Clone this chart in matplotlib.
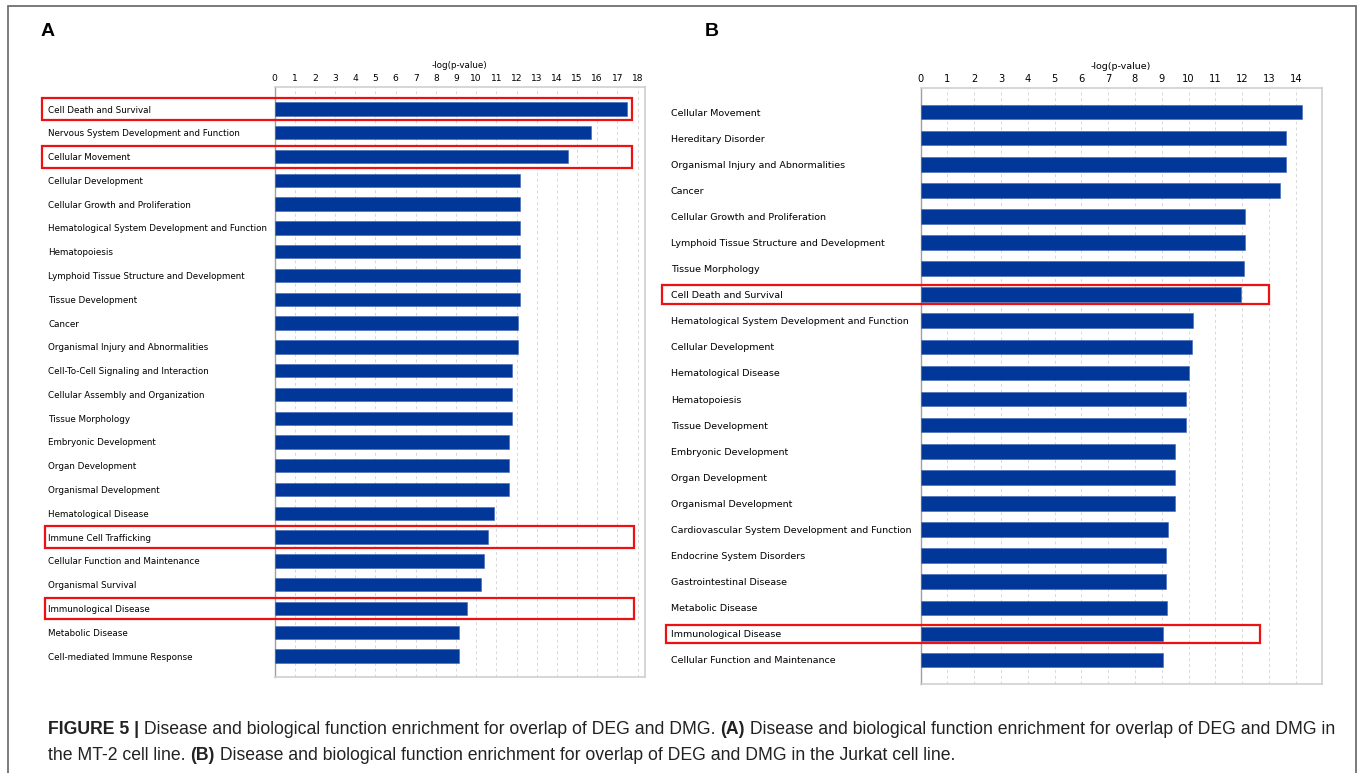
import matplotlib
matplotlib.use('Agg')
import matplotlib.pyplot as plt
import matplotlib.patches as mpatches
import numpy as np

# panel A: MT-2 cell line
cats_a = ['Cell Death and Survival', 'Nervous System Development and Function',
          'Cellular Movement', 'Cellular Development', 'Cellular Growth and Proliferation',
          'Hematological System Development and Function', 'Hematopoiesis',
          'Lymphoid Tissue Structure and Development', 'Tissue Development', 'Cancer',
          'Organismal Injury and Abnormalities', 'Cell-To-Cell Signaling and Interaction',
          'Cellular Assembly and Organization', 'Tissue Morphology', 'Embryonic Development',
          'Organ Development', 'Organismal Development', 'Hematological Disease',
          'Immune Cell Trafficking', 'Cellular Function and Maintenance',
          'Organismal Survival', 'Immunological Disease', 'Metabolic Disease',
          'Cell-mediated Immune Response']
vals_a = [17.5, 15.68, 14.56, 12.16, 12.15, 12.15, 12.15, 12.15, 12.15, 12.05,
          12.05, 11.77, 11.77, 11.77, 11.6, 11.6, 11.6, 10.9, 10.6, 10.37,
          10.24, 9.52, 9.15, 9.14]
boxed_a = ['Cell Death and Survival', 'Cellular Movement', 'Immune Cell Trafficking',
           'Immunological Disease']

# panel B: Jurkat cell line
cats_b = ['Cellular Movement', 'Hereditary Disorder', 'Organismal Injury and Abnormalities',
          'Cancer', 'Cellular Growth and Proliferation',
          'Lymphoid Tissue Structure and Development', 'Tissue Morphology',
          'Cell Death and Survival', 'Hematological System Development and Function',
          'Cellular Development', 'Hematological Disease', 'Hematopoiesis',
          'Tissue Development', 'Embryonic Development', 'Organ Development',
          'Organismal Development', 'Cardiovascular System Development and Function',
          'Endocrine System Disorders', 'Gastrointestinal Disease', 'Metabolic Disease',
          'Immunological Disease', 'Cellular Function and Maintenance']
vals_b = [14.25, 13.64, 13.64, 13.42, 12.1, 12.1, 12.07, 11.96, 10.17, 10.13,
          10.02, 9.9, 9.9, 9.5, 9.5, 9.5, 9.23, 9.17, 9.17, 9.19, 9.06, 9.06]
boxed_b = ['Cell Death and Survival', 'Immunological Disease']

W, H = 1358, 773
fig = plt.figure(figsize=(W / 100, H / 100), dpi=100)

bar_color = '#02379a'


def panel(rect, cats, vals, xmax, ylim, fs, pad, boxes, box_x, box_h):
    ax = fig.add_axes(rect)
    y = np.arange(len(cats))
    ax.barh(y, vals, height=0.56, color=bar_color, edgecolor='#3f66b5', linewidth=0.4,
            zorder=3)
    ax.set_xlim(0, xmax)
    ax.set_ylim(*ylim)
    ax.set_xticks(range(int(xmax) + 1))
    ax.xaxis.tick_top()
    ax.xaxis.set_label_position('top')
    ax.set_xlabel('-log(p-value)', fontsize=fs, labelpad=4)
    ax.set_yticks(y)
    ax.set_yticklabels(cats, ha='left')
    ax.tick_params(axis='y', length=0, pad=pad, labelsize=fs)
    ax.tick_params(axis='x', length=0, pad=3, labelsize=fs + 0.3)
    ax.grid(axis='x', linestyle=(0, (3, 3)), color='#d8d8d8', linewidth=0.7, zorder=0)
    for s in ['top', 'right', 'bottom']:
        ax.spines[s].set_color('#cfcfcf')
        ax.spines[s].set_linewidth(1.2)
    ax.spines['left'].set_color('#a0a0a0')
    ax.spines['left'].set_linewidth(1.0)
    for name, (x0, x1) in zip(boxes, box_x):
        i = cats.index(name)
        r = mpatches.Rectangle((x0, i - box_h), x1 - x0, 2 * box_h, fill=False,
                               edgecolor='#ee1111', linewidth=1.6, clip_on=False,
                               zorder=5)
        ax.add_patch(r)
    return ax


ax_a = panel([274.7 / W, 1 - 677 / H, 370.3 / W, 590 / H], cats_a, vals_a, 18.37,
             (23.88, -0.925), 6.3, 163, boxed_a,
             [(-11.54, 17.71), (-11.54, 17.71), (-11.39, 17.81), (-11.39, 17.81)], 0.46)
ax_b = panel([920.7 / W, 1 - 684 / H, 401 / W, 595.7 / H], cats_b, vals_b, 14.97,
             (21.92, -0.91), 6.8, 180, boxed_b,
             [(-9.66, 13.0), (-9.51, 12.66)], 0.36)

fig.text(41 / W, 1 - 32 / H, 'A', fontsize=14, fontweight='bold', family='Liberation Sans',
         va='center', ha='left')
fig.text(705 / W, 1 - 32 / H, 'B', fontsize=14, fontweight='bold', family='Liberation Sans',
         va='center', ha='left')

# outer frame
frame = mpatches.Rectangle((8 / W, -0.02), (1355.5 - 8) / W, 1.02 - 6 / H, fill=False,
                           edgecolor='#707070', linewidth=1.3, transform=fig.transFigure)
fig.patches.append(frame)

# caption with mixed bold / regular pieces
cap_fs = 12.7
cap_font = 'Liberation Sans'
lines = [
    [('FIGURE 5 |', 'bold'),
     (' Disease and biological function enrichment for overlap of DEG and DMG. ', 'normal'),
     ('(A)', 'bold'),
     (' Disease and biological function enrichment for overlap of DEG and DMG in', 'normal')],
    [('the MT-2 cell line. ', 'normal'), ('(B)', 'bold'),
     (' Disease and biological function enrichment for overlap of DEG and DMG in the Jurkat cell line.',
      'normal')],
]
line_y = [1 - 730 / H, 1 - 756 / H]
renderer = fig.canvas.get_renderer()
for parts, ly in zip(lines, line_y):
    x = 48 / W
    for txt, wt in parts:
        t = fig.text(x, ly, txt, fontsize=cap_fs, fontweight=wt, family=cap_font,
                     color='#222222', va='center', ha='left')
        bb = t.get_window_extent(renderer=renderer)
        x += bb.width / W

fig.savefig('out.png', dpi=100)
